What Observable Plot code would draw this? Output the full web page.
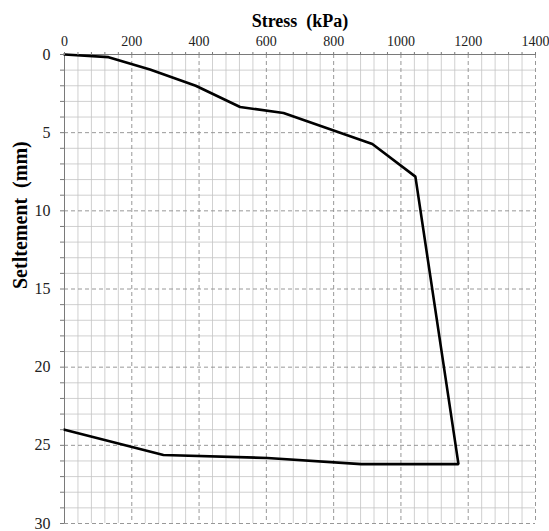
<!DOCTYPE html>
<html>
<head>
<meta charset="utf-8">
<script src="https://cdn.jsdelivr.net/npm/d3@7"></script>
<script src="https://cdn.jsdelivr.net/npm/@observablehq/plot@0.6"></script>
<style>
  html, body { margin: 0; padding: 0; background: #fff; }
  #chart svg { display: block; font-family: "Liberation Serif", "Times New Roman", serif !important; }
  #chart svg text { font-family: "Liberation Serif", "Times New Roman", serif !important; }
</style>
</head>
<body>
<div id="chart"></div>
<script>
// Data
const stress = [0, 131, 254, 390, 522, 651, 915, 1043, 1171, 882, 603, 294, 0];
const settlement = [0, 0.17, 0.96, 2.0, 3.36, 3.74, 5.72, 7.81, 26.2, 26.2, 25.81, 25.62, 24.0];

const xMajorTicks = [0, 200, 400, 600, 800, 1000, 1200, 1400];
const xMinorTicks = d3.range(0, 1401, 40);
const yMajorTicks = [0, 5, 10, 15, 20, 25, 30];
const yMinorTicks = d3.range(0, 31, 1);

const titleText = "Stress  (kPa)";
const yLabelText = "Setltement  (mm)";

const data = stress.map((s, i) => ({stress: s, settlement: settlement[i]}));

const font = "Liberation Serif";

const chart = Plot.plot({
  width: 549,
  height: 531,
  marginLeft: 64,
  marginRight: 14,
  marginTop: 54,
  marginBottom: 8,
  style: {background: "#fff", color: "#000"},
  x: {domain: [0, 1400]},
  y: {domain: [0, 30], reverse: true},
  marks: [
    Plot.ruleX(xMinorTicks.filter(d => d % 200 !== 0), {stroke: "#c4c4c4", strokeWidth: 0.8, strokeOpacity: 1}),
    Plot.ruleY(yMinorTicks.filter(d => d % 5 !== 0), {stroke: "#c4c4c4", strokeWidth: 0.8, strokeOpacity: 1}),
    Plot.ruleX(xMajorTicks.filter(d => d !== 0), {stroke: "#8c8c8c", strokeWidth: 0.9, strokeDasharray: "4,3"}),
    Plot.ruleY(yMajorTicks.filter(d => d !== 0), {stroke: "#8c8c8c", strokeWidth: 0.9, strokeDasharray: "4,3"}),
    Plot.ruleY([0], {stroke: "#7a7a7a", strokeWidth: 1}),
    Plot.ruleX([0], {stroke: "#7a7a7a", strokeWidth: 1}),
    Plot.line(data, {x: "stress", y: "settlement", stroke: "#000", strokeWidth: 2.6, strokeLinejoin: "miter"}),
    Plot.axisX({
      anchor: "top",
      ticks: xMinorTicks,
      tickSize: 3,
      tickPadding: 6,
      stroke: "#7a7a7a",
      tickFormat: d => (d % 200 === 0 ? String(d) : ""),
      fontSize: 14,
      fontFamily: font,
      fill: "#222",
      label: null
    }),
    Plot.axisY({
      anchor: "left",
      ticks: yMinorTicks,
      tickSize: 4,
      tickPadding: 10,
      stroke: "#7a7a7a",
      tickFormat: d => (d % 5 === 0 ? String(d) : ""),
      fontSize: 16,
      fontFamily: font,
      fill: "#222",
      label: null
    }),
    Plot.text([titleText], {
      frameAnchor: "top",
      dy: -40,
      text: d => d,
      fontSize: 18,
      fontFamily: font,
      fontWeight: "bold",
      fill: "#000"
    }),
    Plot.text([yLabelText], {
      frameAnchor: "left",
      dx: -44,
      rotate: -90,
      text: d => d,
      fontSize: 20,
      fontFamily: font,
      fontWeight: "bold",
      fill: "#000"
    })
  ]
});

document.getElementById("chart").appendChild(chart);
</script>
</body>
</html>
